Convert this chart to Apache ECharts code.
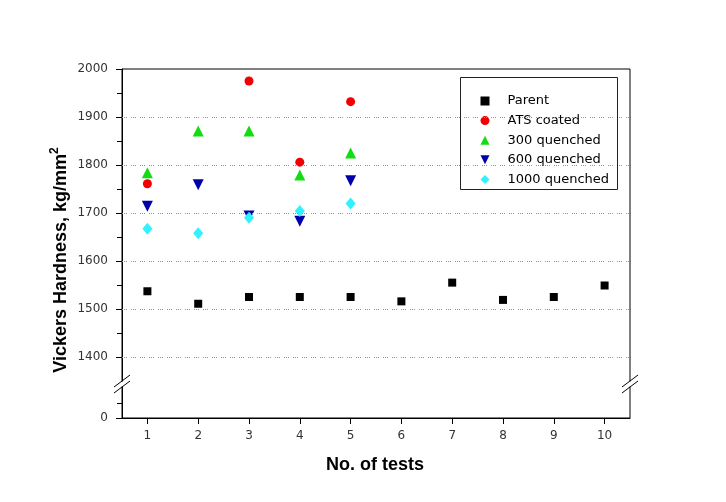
<!DOCTYPE html>
<html>
<head>
<meta charset="utf-8">
<script src="https://cdn.jsdelivr.net/npm/echarts@6/dist/echarts.min.js"></script>
<style>html,body{margin:0;padding:0;background:#fff;}#c{width:726px;height:502px;}</style>
</head>
<body>
<div id="c"></div>
<script>
var tests = [1, 2, 3, 4, 5, 6, 7, 8, 9, 10];
var parentVals = [1537, 1511, 1525, 1525, 1525, 1516, 1555, 1519, 1525, 1549];
var atsVals = [1761, null, 1975, 1806, 1932];
var q300Vals = [1784, 1871, 1871, 1779, 1825];
var q600Vals = [1714, 1759, 1694, 1683, 1767];
var q1000Vals = [1667, 1658, 1690, 1704, 1720];
var yTickLabels = [1400, 1500, 1600, 1700, 1800, 1900, 2000];
var yMinorTicks = [1450, 1550, 1650, 1750, 1850, 1950];
var gridValues = [1400, 1500, 1600, 1700, 1800, 1900];

var Y_BREAK_BASE = 1273;   // value at which the "0" of the broken axis is drawn
var Y_BREAK_MINOR = 1304;  // minor tick below the break

function pairs(vals) {
  var out = [];
  vals.forEach(function (v, i) { if (v !== null) out.push([tests[i], v]); });
  return out;
}

var font = 'DejaVu Sans';
var chart = echarts.init(document.getElementById('c'), null, {renderer: 'canvas'});

function breakMark(X, Y) {
  return [
    {type: 'rect', z: 100, shape: {x: X - 3, y: Y - 2.5, width: 6, height: 5}, style: {fill: '#fff'}},
    {type: 'line', z: 101, shape: {x1: X - 8, y1: Y + 3, x2: X + 8, y2: Y - 9}, style: {stroke: '#000', lineWidth: 1}},
    {type: 'line', z: 101, shape: {x1: X - 8, y1: Y + 9, x2: X + 8, y2: Y - 3}, style: {stroke: '#000', lineWidth: 1}}
  ];
}

var option = {
  animation: false,
  backgroundColor: '#fff',
  grid: {left: 122, right: 96, top: 69, bottom: 84, show: true, borderColor: '#000', borderWidth: 1, backgroundColor: 'transparent'},
  xAxis: {
    type: 'value', min: 0.5, max: 10.5,
    axisLine: {show: true, lineStyle: {color: '#000', width: 1}},
    axisTick: {show: true, length: 6, customValues: tests, lineStyle: {color: '#000'}},
    axisLabel: {customValues: tests, margin: 12, color: '#333', fontFamily: font, fontSize: 12},
    splitLine: {show: false}
  },
  yAxis: [{
    type: 'value', min: Y_BREAK_BASE, max: 2000,
    axisLine: {show: true, lineStyle: {color: '#000', width: 1}},
    axisTick: {show: true, length: 6, customValues: [Y_BREAK_BASE].concat(yTickLabels), lineStyle: {color: '#000'}},
    axisLabel: {
      customValues: [Y_BREAK_BASE].concat(yTickLabels), margin: 14, color: '#333', fontFamily: font, fontSize: 12,
      formatter: function (v) { return v < 1300 ? '0' : String(v); }
    },
    splitLine: {show: false}
  }, {
    type: 'value', min: Y_BREAK_BASE, max: 2000, position: 'left',
    axisLine: {show: false},
    axisTick: {show: true, length: 5, customValues: [Y_BREAK_MINOR].concat(yMinorTicks), lineStyle: {color: '#000'}},
    axisLabel: {show: false},
    splitLine: {show: false}
  }],
  legend: {
    orient: 'vertical', left: 475.5, top: 89.5,
    itemWidth: 9, itemHeight: 9, itemGap: 6.6,
    data: ['Parent', 'ATS coated', '300 quenched', '600 quenched', '1000 quenched'],
    textStyle: {fontFamily: font, fontSize: 13, color: '#000', lineHeight: 13, padding: [0, 0, 0, 13]}
  },
  graphic: [
    {type: 'rect', z: 50, shape: {x: 460.5, y: 77.5, width: 157, height: 112}, style: {fill: 'none', stroke: '#222', lineWidth: 1}},
    {type: 'text', z: 50, x: 375, y: 465, style: {text: 'No. of tests', font: 'bold 18px "Liberation Sans", Arial', fill: '#000', align: 'center', verticalAlign: 'middle'}},
    {type: 'text', z: 50, x: 61, y: 260, rotation: Math.PI / 2,
      style: {text: 'Vickers Hardness, kg/mm{s|2}', font: 'bold 18px "Liberation Sans", Arial', fill: '#000', align: 'center', verticalAlign: 'middle',
        rich: {s: {font: 'bold 12px "Liberation Sans", Arial', fill: '#000', verticalAlign: 'top', padding: [0, 0, 12, 0]}}}}
  ].concat(breakMark(122, 384)).concat(breakMark(630, 384)),
  series: [
    {name: 'grid', type: 'scatter', data: [], z: 1, silent: true,
      markLine: {silent: true, symbol: ['none', 'none'], label: {show: false},
        lineStyle: {color: '#9a9a5a', width: 1, type: [1, 1, 1, 1, 1, 4]},
        data: gridValues.map(function (v) { return {yAxis: v}; })}},
    {name: 'Parent', type: 'scatter', symbol: 'rect', symbolSize: 8, itemStyle: {color: '#000', opacity: 1}, data: pairs(parentVals), z: 3},
    {name: 'ATS coated', type: 'scatter', symbol: 'circle', symbolSize: 9, itemStyle: {color: '#f00000', opacity: 1}, data: pairs(atsVals), z: 3},
    {name: '300 quenched', type: 'scatter', symbol: 'triangle', symbolSize: 11, itemStyle: {color: '#11dd11', opacity: 1}, data: pairs(q300Vals), z: 3},
    {name: '600 quenched', type: 'scatter', symbol: 'path://M0,0 L10,0 L5,10 Z', symbolSize: 11, itemStyle: {color: '#0000aa', opacity: 1}, data: pairs(q600Vals), z: 3},
    {name: '1000 quenched', type: 'scatter', symbol: 'diamond', symbolSize: [10, 12], itemStyle: {color: '#33f0ff', opacity: 1}, data: pairs(q1000Vals), z: 3}
  ]
};
chart.setOption(option);
</script>
</body>
</html>
